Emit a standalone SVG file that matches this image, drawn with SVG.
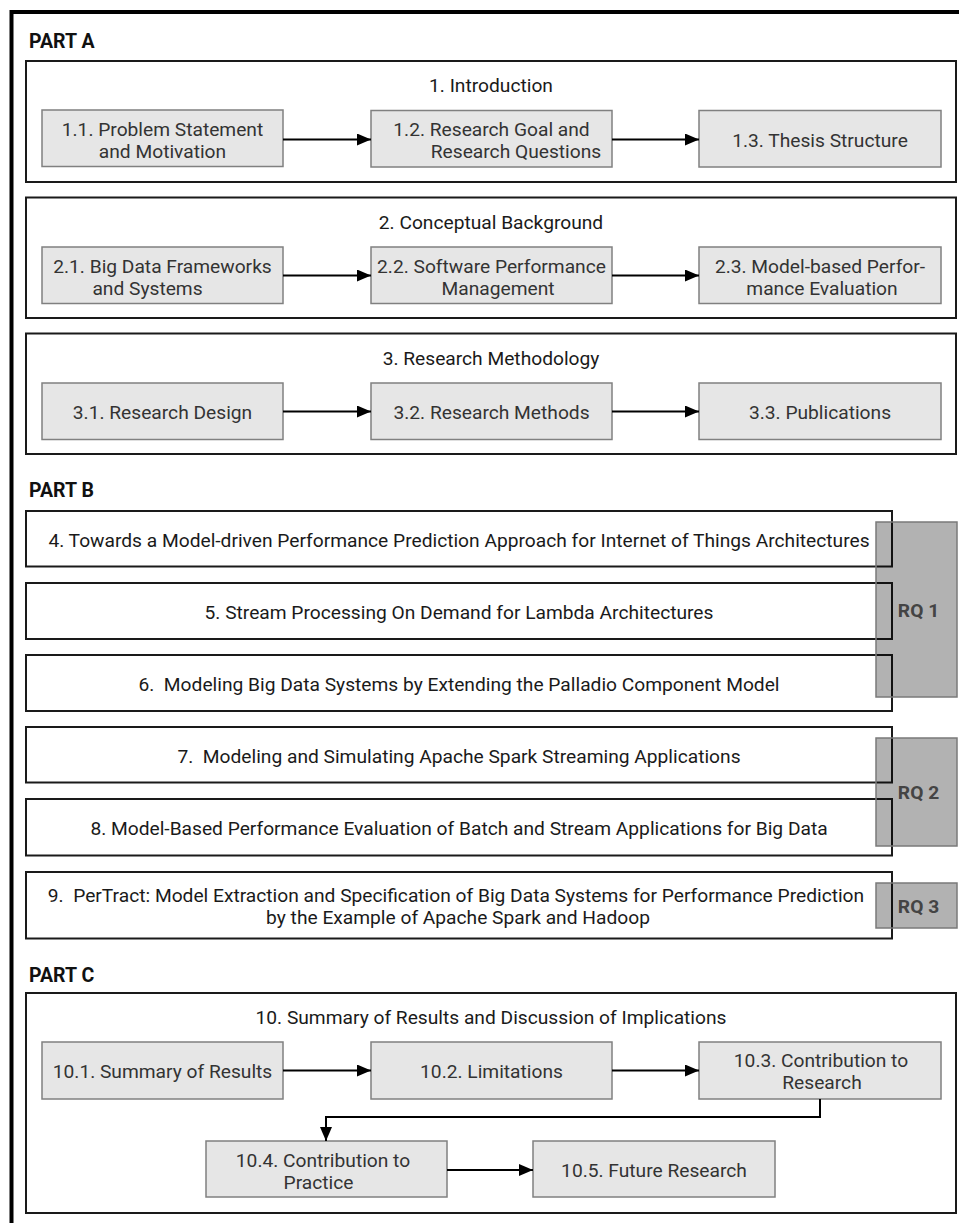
<svg xmlns="http://www.w3.org/2000/svg" width="959" height="1223" viewBox="0 0 959 1223">
  <defs>
    <marker id="arrow" viewBox="0 0 14 12" refX="14" refY="6" markerWidth="14" markerHeight="12" markerUnits="userSpaceOnUse" orient="auto">
      <path d="M0,0 L14,6 L0,12 Z" fill="#000"/>
    </marker>
    <style>
      text { font-family: Roboto, "Liberation Sans", sans-serif; font-size: 19.2px; }
      .part { font-weight: bold; font-size: 19.5px; fill: #111; }
      .frame { fill: #fff; stroke: #1a1a1a; stroke-width: 2; }
      .title { fill: #1a1a1a; text-anchor: middle; }
      .node rect { fill: #e6e6e6; stroke: #808080; stroke-width: 1.5; }
      .node text { fill: #333; text-anchor: middle; }
      .chapter rect { fill: #fff; stroke: #1a1a1a; stroke-width: 2; }
      .chapter text { fill: #1a1a1a; text-anchor: middle; white-space: pre; }
      .rq rect { fill: #000; fill-opacity: 0.3; stroke: #7a7a7a; stroke-width: 1.5; }
      .rq text { fill: #444; font-weight: bold; text-anchor: middle; }
      .conn { fill: none; stroke: #000; stroke-width: 2; marker-end: url(#arrow); }
    </style>
  </defs>

  <!-- outer frame, open to the right and bottom -->
  <rect x="11.5" y="12" width="980" height="1240" fill="#fff" stroke="#000" stroke-width="4"/>

  <!-- PART A -->
  <text class="part" x="29" y="47.5">PART A</text>

  <g id="ch1">
    <rect class="frame" x="26" y="61" width="930" height="121"/>
    <text class="title" x="491" y="92">1. Introduction</text>
  </g>
  <g id="n1_1" class="node">
    <rect x="42" y="110" width="241" height="56.5"/>
    <text x="162.5" y="135.5">1.1. Problem Statement</text>
    <text x="162.5" y="157.5">and Motivation</text>
  </g>
  <g id="n1_2" class="node">
    <rect x="371" y="110.5" width="241" height="56.5"/>
    <text x="491.5" y="135.5">1.2. Research Goal and</text>
    <text x="516" y="157.5">Research Questions</text>
  </g>
  <g id="n1_3" class="node">
    <rect x="699" y="110.5" width="242" height="56.5"/>
    <text x="820" y="146.5">1.3. Thesis Structure</text>
  </g>

  <g id="ch2">
    <rect class="frame" x="26" y="197.5" width="930" height="120.5"/>
    <text class="title" x="491" y="228.5">2. Conceptual Background</text>
  </g>
  <g id="n2_1" class="node">
    <rect x="42" y="247" width="241" height="56.5"/>
    <text x="162.5" y="272.5">2.1. Big Data Frameworks</text>
    <text x="147.5" y="294.5">and Systems</text>
  </g>
  <g id="n2_2" class="node">
    <rect x="371" y="247" width="241" height="56.5"/>
    <text x="491.5" y="272.5">2.2. Software Performance</text>
    <text x="498" y="294.5">Management</text>
  </g>
  <g id="n2_3" class="node">
    <rect x="699" y="247" width="242" height="56.5"/>
    <text x="820" y="272.5">2.3. Model-based Perfor-</text>
    <text x="822" y="294.5">mance Evaluation</text>
  </g>

  <g id="ch3">
    <rect class="frame" x="26" y="333.5" width="930" height="120.5"/>
    <text class="title" x="491" y="364.5">3. Research Methodology</text>
  </g>
  <g id="n3_1" class="node">
    <rect x="42" y="383" width="241" height="56.5"/>
    <text x="162.5" y="418.5">3.1. Research Design</text>
  </g>
  <g id="n3_2" class="node">
    <rect x="371" y="383" width="241" height="56.5"/>
    <text x="491.5" y="418.5">3.2. Research Methods</text>
  </g>
  <g id="n3_3" class="node">
    <rect x="699" y="383" width="242" height="56.5"/>
    <text x="820" y="418.5">3.3. Publications</text>
  </g>

  <!-- PART B -->
  <text class="part" x="29" y="496.5">PART B</text>

  <g id="ch4" class="chapter">
    <rect x="26" y="511" width="866" height="55.5"/>
    <text x="459" y="546.5">4. Towards a Model-driven Performance Prediction Approach for Internet of Things Architectures</text>
  </g>
  <g id="ch5" class="chapter">
    <rect x="26" y="583" width="866" height="56"/>
    <text x="459" y="618.5">5. Stream Processing On Demand for Lambda Architectures</text>
  </g>
  <g id="ch6" class="chapter">
    <rect x="26" y="655" width="866" height="56"/>
    <text x="459" y="690.5">6.  Modeling Big Data Systems by Extending the Palladio Component Model</text>
  </g>
  <g id="ch7" class="chapter">
    <rect x="26" y="727" width="866" height="55.5"/>
    <text x="459" y="762.5">7.  Modeling and Simulating Apache Spark Streaming Applications</text>
  </g>
  <g id="ch8" class="chapter">
    <rect x="26" y="799" width="866" height="56.5"/>
    <text x="459" y="835">8. Model-Based Performance Evaluation of Batch and Stream Applications for Big Data</text>
  </g>
  <g id="ch9" class="chapter">
    <rect x="26" y="872" width="866" height="66.5"/>
    <text x="456" y="902">9.  PerTract: Model Extraction and Specification of Big Data Systems for Performance Prediction</text>
    <text x="458" y="923.5">by the Example of Apache Spark and Hadoop</text>
  </g>

  <g id="rq1" class="rq">
    <rect x="876" y="522" width="81" height="175"/>
    <text x="918.5" y="616.5">RQ 1</text>
  </g>
  <g id="rq2" class="rq">
    <rect x="876" y="738" width="81" height="108"/>
    <text x="918.5" y="799">RQ 2</text>
  </g>
  <g id="rq3" class="rq">
    <rect x="876" y="883" width="81" height="45"/>
    <text x="918.5" y="912.5">RQ 3</text>
  </g>

  <!-- PART C -->
  <text class="part" x="29" y="982">PART C</text>

  <g id="ch10">
    <rect class="frame" x="26" y="993" width="930" height="220"/>
    <text class="title" x="491" y="1024">10. Summary of Results and Discussion of Implications</text>
  </g>
  <g id="n10_1" class="node">
    <rect x="42" y="1042" width="241" height="57"/>
    <text x="162.5" y="1077.5">10.1. Summary of Results</text>
  </g>
  <g id="n10_2" class="node">
    <rect x="371" y="1042" width="241" height="57"/>
    <text x="491.5" y="1077.5">10.2. Limitations</text>
  </g>
  <g id="n10_3" class="node">
    <rect x="699" y="1042" width="242" height="57"/>
    <text x="821" y="1067">10.3. Contribution to</text>
    <text x="822" y="1089">Research</text>
  </g>
  <g id="n10_4" class="node">
    <rect x="206" y="1141" width="241" height="56"/>
    <text x="323" y="1166.5">10.4. Contribution to</text>
    <text x="318.5" y="1188.5">Practice</text>
  </g>
  <g id="n10_5" class="node">
    <rect x="533" y="1141" width="242" height="56"/>
    <text x="654" y="1176.5">10.5. Future Research</text>
  </g>

  <!-- connectors -->
  <g id="connectors">
    <line class="conn" x1="283" y1="139.5" x2="371" y2="139.5"/>
    <line class="conn" x1="612" y1="139.5" x2="699" y2="139.5"/>
    <line class="conn" x1="283" y1="275.5" x2="371" y2="275.5"/>
    <line class="conn" x1="612" y1="275.5" x2="699" y2="275.5"/>
    <line class="conn" x1="283" y1="411.5" x2="371" y2="411.5"/>
    <line class="conn" x1="612" y1="411.5" x2="699" y2="411.5"/>
    <line class="conn" x1="283" y1="1070.5" x2="371" y2="1070.5"/>
    <line class="conn" x1="612" y1="1070.5" x2="699" y2="1070.5"/>
    <path class="conn" d="M820,1099 V1117 H326 V1141"/>
    <line class="conn" x1="447" y1="1170" x2="533" y2="1170"/>
  </g>
</svg>
